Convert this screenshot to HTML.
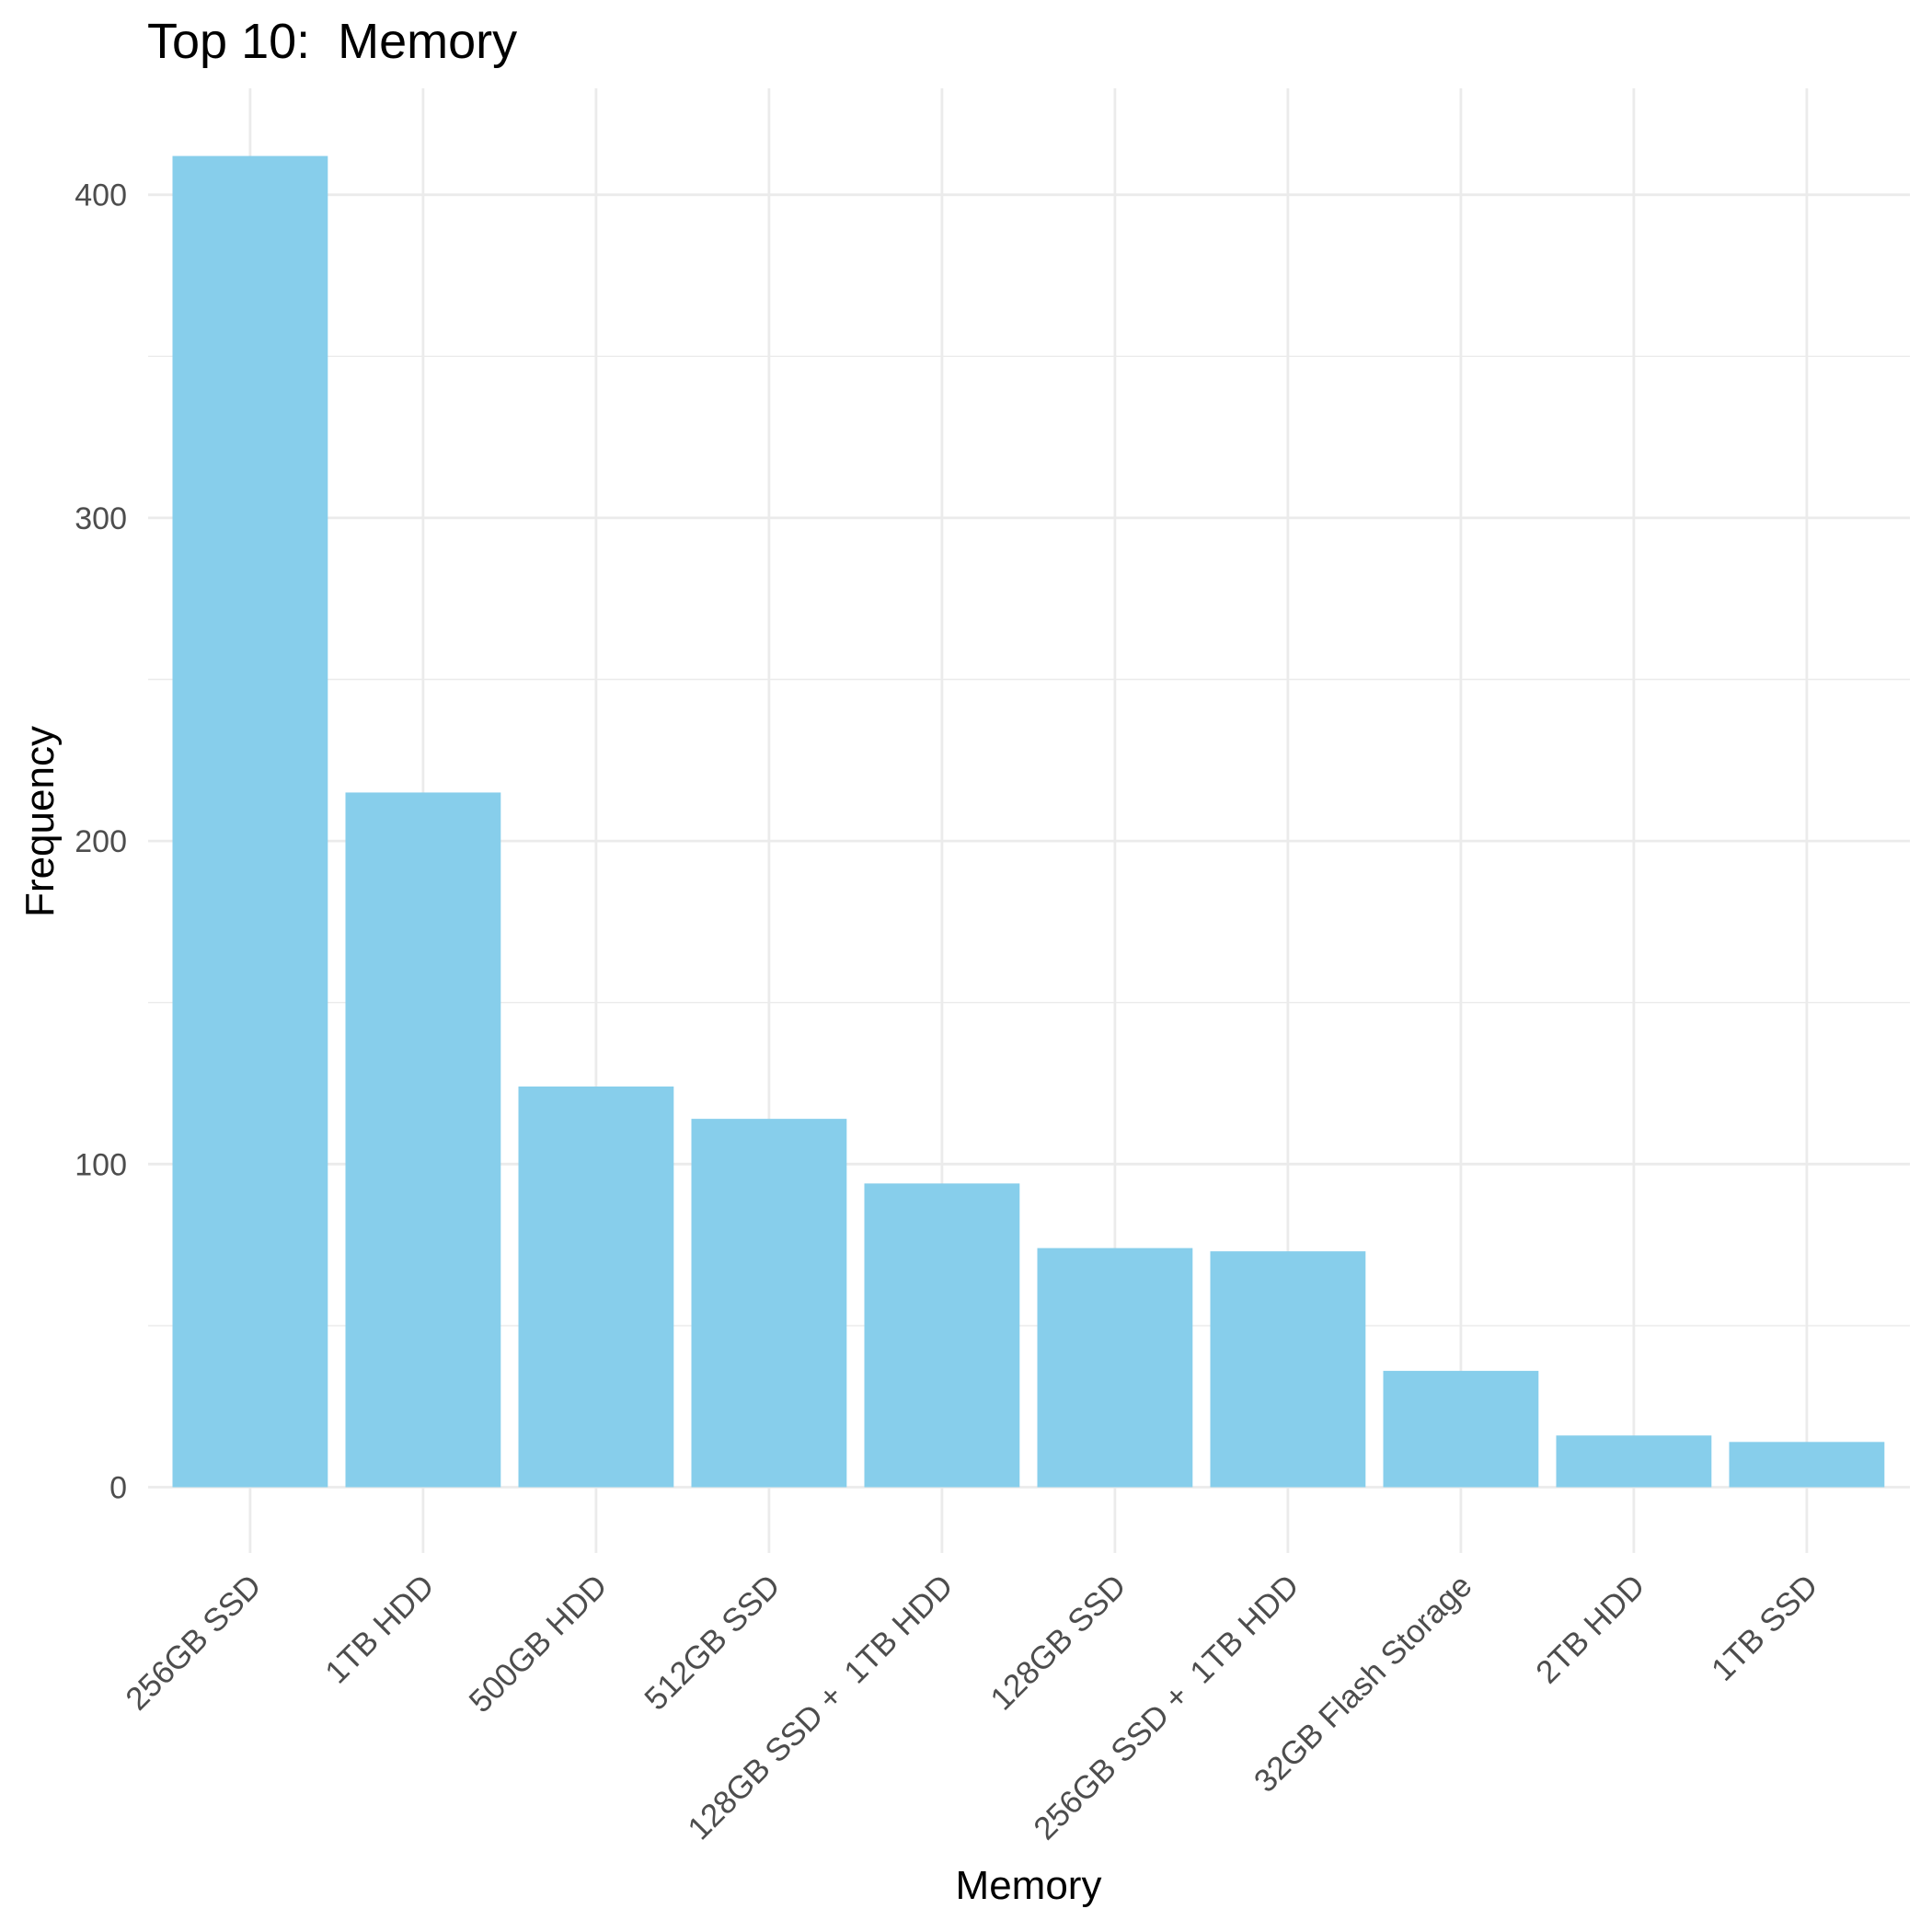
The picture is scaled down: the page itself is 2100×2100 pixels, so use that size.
<!DOCTYPE html>
<html><head><meta charset="utf-8"><style>
html,body{margin:0;padding:0;background:#fff;}
svg{display:block;font-family:"Liberation Sans",Arial,sans-serif;}
text{white-space:pre;}
</style></head><body>
<svg id="chart" width="2100" height="2100" viewBox="0 0 2100 2100" xmlns="http://www.w3.org/2000/svg">
<text x="160" y="63" font-size="54" fill="#000">Top 10:  Memory</text>
<text transform="translate(58,893) rotate(-90)" text-anchor="middle" font-size="44" fill="#000">Frequency</text>
<text x="1118" y="2064" text-anchor="middle" font-size="44" fill="#000">Memory</text>
<g id="grid"></g><g id="bars"></g><g id="labels"></g>
</svg>
<script>
const categories = ["256GB SSD","1TB HDD","500GB HDD","512GB SSD","128GB SSD +  1TB HDD","128GB SSD","256GB SSD +  1TB HDD","32GB Flash Storage","2TB HDD","1TB SSD"];
const values = [412,215,124,114,94,74,73,36,16,14];
const yTicks = [0,100,200,300,400];
const yMinor = [50,150,250,350];

const NS="http://www.w3.org/2000/svg";
const panelL=161, panelR=2076, panelT=96, panelB=1688;
const y0=1616.5, perUnit=3.512;
function yScale(v){return y0 - v*perUnit;}
const step=188.0, first=271.9, bw=168.8;
function xScale(i){return first + i*step;}
function mk(tag,attrs,parent){const e=document.createElementNS(NS,tag);for(const k in attrs)e.setAttribute(k,attrs[k]);parent.appendChild(e);return e;}
const grid=document.getElementById('grid'), bars=document.getElementById('bars'), labels=document.getElementById('labels');

yMinor.forEach(v=>{
  const l=mk('line',{x1:panelL,x2:panelR,y1:yScale(v),y2:yScale(v),stroke:'#ebebeb','stroke-width':1.4},grid);
  
  
});
yTicks.forEach(v=>{
  const l=mk('line',{x1:panelL,x2:panelR,y1:yScale(v),y2:yScale(v),stroke:'#ebebeb','stroke-width':2.8},grid);
  
  
  const t=mk('text',{x:138,y:yScale(v)+12,'text-anchor':'end','font-size':34,fill:'#4d4d4d'},labels);
  t.textContent=v;
  
  
});
categories.forEach((c,i)=>{
  const x=xScale(i);
  const g=mk('line',{x1:x,x2:x,y1:panelT,y2:panelB,stroke:'#ebebeb','stroke-width':2.8},grid);
  
  
  const r=mk('rect',{x:x-bw/2,y:yScale(values[i]),width:bw,height:y0-yScale(values[i]),fill:'#87ceeb'},bars);
  
  
  const t=mk('text',{transform:`translate(${x+14},${1726}) rotate(-45)`,'text-anchor':'end','font-size':35,fill:'#4d4d4d'},labels);
  t.textContent=c;
  
  
});
</script>
</body></html>
